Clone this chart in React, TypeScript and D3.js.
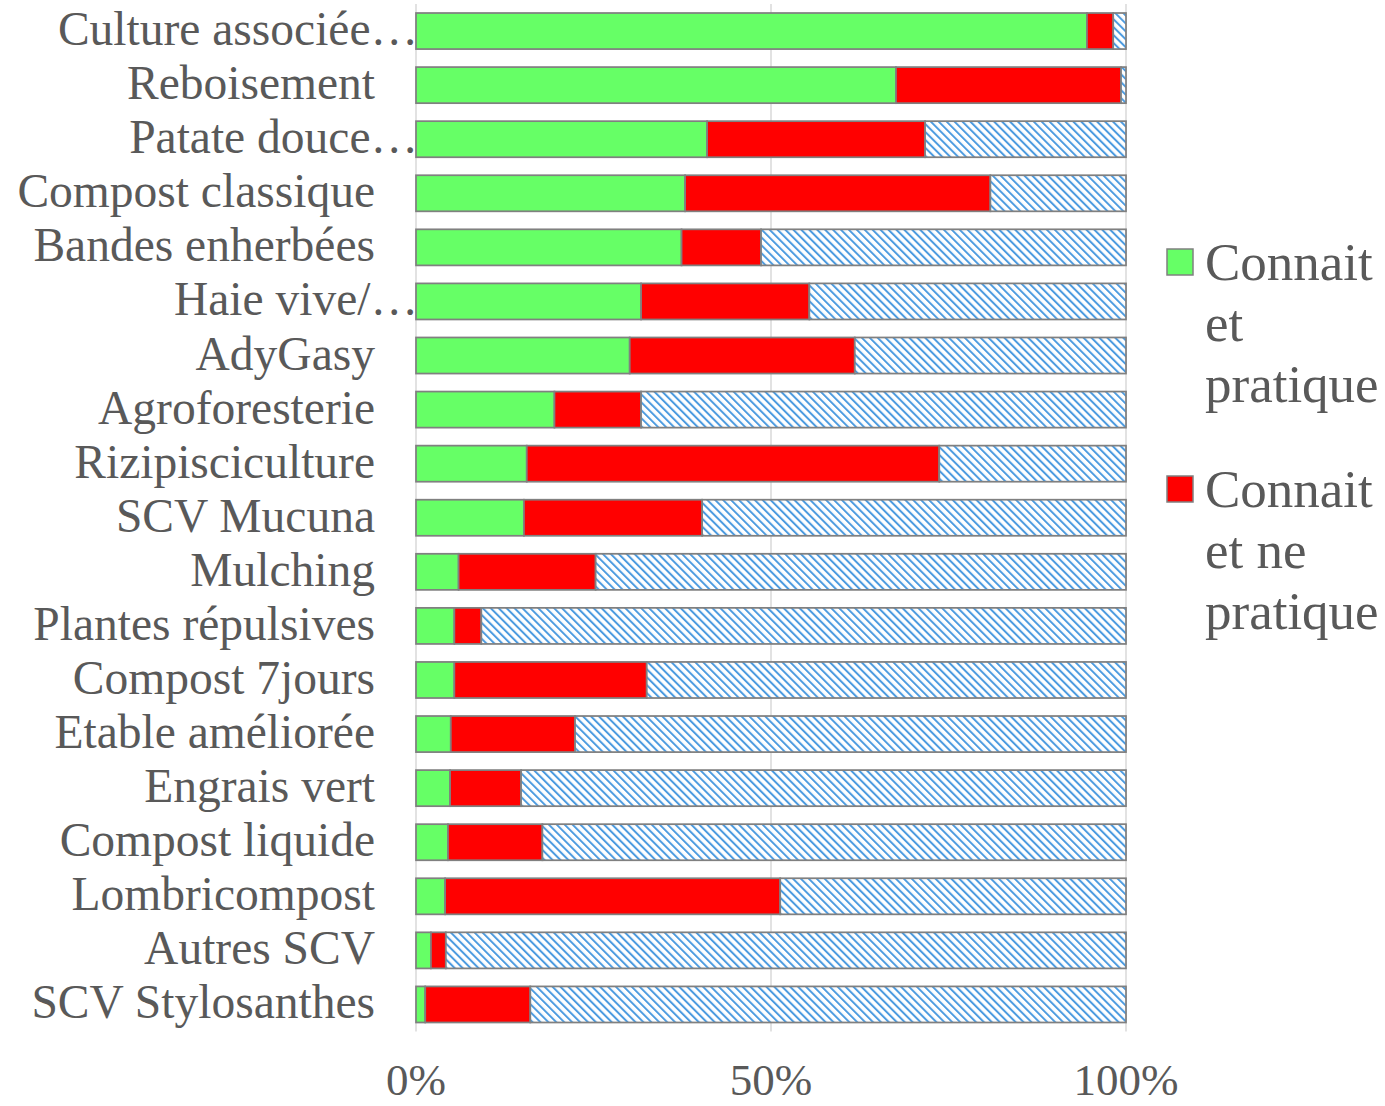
import React from "react";
import * as d3 from "d3";

const categories = [
  "Culture associée…",
  "Reboisement",
  "Patate douce…",
  "Compost classique",
  "Bandes enherbées",
  "Haie vive/…",
  "AdyGasy",
  "Agroforesterie",
  "Rizipisciculture",
  "SCV Mucuna",
  "Mulching",
  "Plantes répulsives",
  "Compost 7jours",
  "Etable améliorée",
  "Engrais vert",
  "Compost liquide",
  "Lombricompost",
  "Autres SCV",
  "SCV Stylosanthes",
];

const connaitPratique = [94.5, 67.6, 41.0, 37.9, 37.4, 31.7, 30.1, 19.5, 15.6, 15.2, 6.0, 5.4, 5.4, 4.9, 4.8, 4.5, 4.1, 2.1, 1.3];
const connaitNePratique = [3.7, 31.7, 30.7, 43.0, 11.2, 23.7, 31.7, 12.2, 58.1, 25.1, 19.3, 3.8, 27.1, 17.5, 10.0, 13.3, 47.2, 2.1, 14.8];
const neConnaitPas = [1.8, 0.7, 28.3, 19.1, 51.4, 44.6, 38.2, 68.3, 26.3, 59.7, 74.7, 90.8, 67.5, 77.6, 85.2, 82.2, 48.7, 95.8, 83.9];

const xTicks = [0, 50, 100];
const legendLabels = [
  ["Connait", "et", "pratique"],
  ["Connait", "et ne", "pratique"],
];

const seriesKeys = ["cp", "cnp", "ncp"];
const fills = ["#66FF66", "#FF0000", "url(#hatch)"];

const FONT = "'Liberation Serif', 'Times New Roman', serif";
const TEXT = "#595959";

export default function App() {
  const W = 1385;
  const H = 1106;
  const x = d3.scaleLinear().domain([0, 100]).range([416, 1126]);
  const y = d3
    .scaleBand<string>()
    .domain(categories)
    .range([4, 1031.5])
    .paddingInner(0.333)
    .paddingOuter(0.1667);

  const rows = categories.map((c, i) => ({
    cat: c,
    cp: connaitPratique[i],
    cnp: connaitNePratique[i],
    ncp: neConnaitPas[i],
  }));
  const stacked = d3.stack<any>().keys(seriesKeys)(rows);

  const legendSquareY = [249, 476];
  const legendBaseline = [280, 507];

  return (
    <svg
      width={W}
      height={H}
      style={{ position: "absolute", left: 0, top: 0, background: "#fff" }}
    >
      <defs>
        <pattern
          id="hatch"
          patternUnits="userSpaceOnUse"
          width={5.6}
          height={5.6}
          patternTransform="rotate(-45)"
        >
          <rect x={0} y={0} width={5.6} height={5.6} fill="#ffffff" />
          <rect x={0} y={0} width={2} height={5.6} fill="#4C9BE0" />
        </pattern>
      </defs>

      {/* gridlines */}
      {xTicks.map((t) => (
        <line
          key={t}
          x1={x(t)}
          x2={x(t)}
          y1={4}
          y2={1031.5}
          stroke="#D9D9D9"
          strokeWidth={1.5}
        />
      ))}

      {/* bars */}
      {stacked.map((s, si) => (
        <g key={s.key}>
          {s.map((d, i) => (
            <rect
              key={i}
              x={x(d[0])}
              y={y(categories[i])}
              width={Math.max(0, x(d[1]) - x(d[0]))}
              height={y.bandwidth()}
              fill={fills[si]}
              stroke="#808080"
              strokeWidth={1.75}
            />
          ))}
        </g>
      ))}

      {/* category labels */}
      {categories.map((c) => {
        const truncated = c.endsWith("…");
        return (
          <text
            key={c}
            x={truncated ? x(0) + 2 : 375}
            y={(y(c) as number) + y.bandwidth() / 2 + 14}
            textAnchor="end"
            fontFamily={FONT}
            fontSize={47.5}
            fill={TEXT}
          >
            {c}
          </text>
        );
      })}

      {/* x axis labels */}
      {xTicks.map((t) => (
        <text
          key={t}
          x={x(t)}
          y={1095}
          textAnchor="middle"
          fontFamily={FONT}
          fontSize={45}
          fill={TEXT}
        >
          {t + "%"}
        </text>
      ))}

      {/* legend */}
      {legendLabels.map((lines, li) => (
        <g key={li}>
          <rect
            x={1167}
            y={legendSquareY[li]}
            width={26}
            height={26}
            fill={fills[li]}
            stroke="#808080"
            strokeWidth={1.5}
          />
          {lines.map((ln, k) => (
            <text
              key={k}
              x={1205}
              y={legendBaseline[li] + k * 61}
              fontFamily={FONT}
              fontSize={53}
              fill={TEXT}
            >
              {ln}
            </text>
          ))}
        </g>
      ))}
    </svg>
  );
}
